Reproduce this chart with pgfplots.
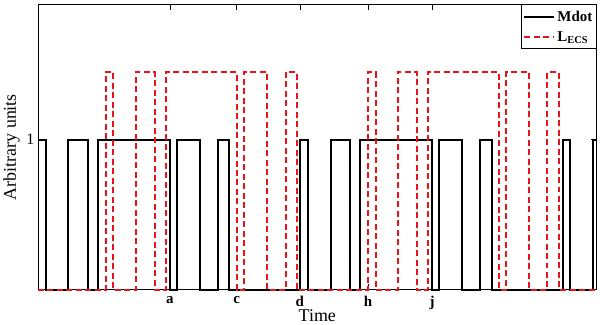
\documentclass[border=0pt]{standalone}
\usepackage{fontspec}
\setmainfont{Liberation Serif}
\usepackage{pgfplots}
\pgfplotsset{compat=1.18}
\definecolor{lred}{HTML}{E8141B}
\begin{document}
\begin{tikzpicture}
\begin{axis}[scale only axis,width=559bp,height=285.7bp,
  xmin=38,xmax=597,ymin=0,ymax=1.9,clip=false,
  xtick={170,236.7,300,368.3,432.3},xticklabels={a,c,d,h,j},
  xticklabel style={font=\fontsize{15}{18}\selectfont\bfseries,yshift=-3bp},
  ytick={1},yticklabel style={font=\fontsize{16}{19}\selectfont},
  /pgf/number format/assume math mode=true,
  major tick length=6bp,tick style={black,line width=0.6bp},
  axis line style={line width=0.8bp},
  xlabel={Time},ylabel={Arbitrary units},
  label style={font=\fontsize{18}{21}\selectfont},
  xlabel style={at={(axis description cs:0.5,-0.112)},anchor=base},
  ylabel style={at={(axis description cs:-0.0394,0.5)},anchor=base},
  legend style={at={(1,1)},anchor=north east,draw=black,line width=0.8bp,
    font=\fontsize{15}{17}\selectfont\bfseries,inner xsep=2bp,inner ysep=4bp,row sep=5bp,
    /tikz/every even column/.append style={column sep=1bp}},
  legend cell align=left,
  legend image code/.code={\draw[#1] (0bp,0bp) -- (30bp,0bp);},
]
% Mdot: value holds until the next x
\addplot[black,line width=2bp,const plot] coordinates {
 (38,1) (45.7,0) (68.3,1) (87.7,0) (98.3,1) (170,0) (177.3,1) (200,0)
 (218,1) (229.5,0) (300,1) (308.3,0) (330.7,1) (350,0) (360,1) (432.3,0)
 (439.3,1) (462,0) (480.5,1) (492,0) (563,1) (570,0) (593.3,1) (597,1)};
\addlegendentry{Mdot}
% L_ECS
\addplot[lred,dash pattern=on 6bp off 3.5bp,line width=2bp,const plot] coordinates {
 (38,0) (105.7,1.45) (113,0) (135.7,1.45) (154.7,0) (165.7,1.45) (236.7,0)
 (244,1.45) (266.7,0) (285.7,1.45) (297,0) (368.2,1.45) (375.7,0)
 (397.8,1.45) (416.8,0) (427.8,1.45) (499.3,0) (506.7,1.45) (529,0)
 (547.5,1.45) (559.2,0) (597,0)};
\addlegendentry{L\textsubscript{ECS}}
\end{axis}
\pgfresetboundingbox
\path[use as bounding box] ([shift={(-38bp,-35bp)}]current axis.south west)
  rectangle ([shift={(3.3bp,4.3bp)}]current axis.north east);
\end{tikzpicture}
\end{document}
